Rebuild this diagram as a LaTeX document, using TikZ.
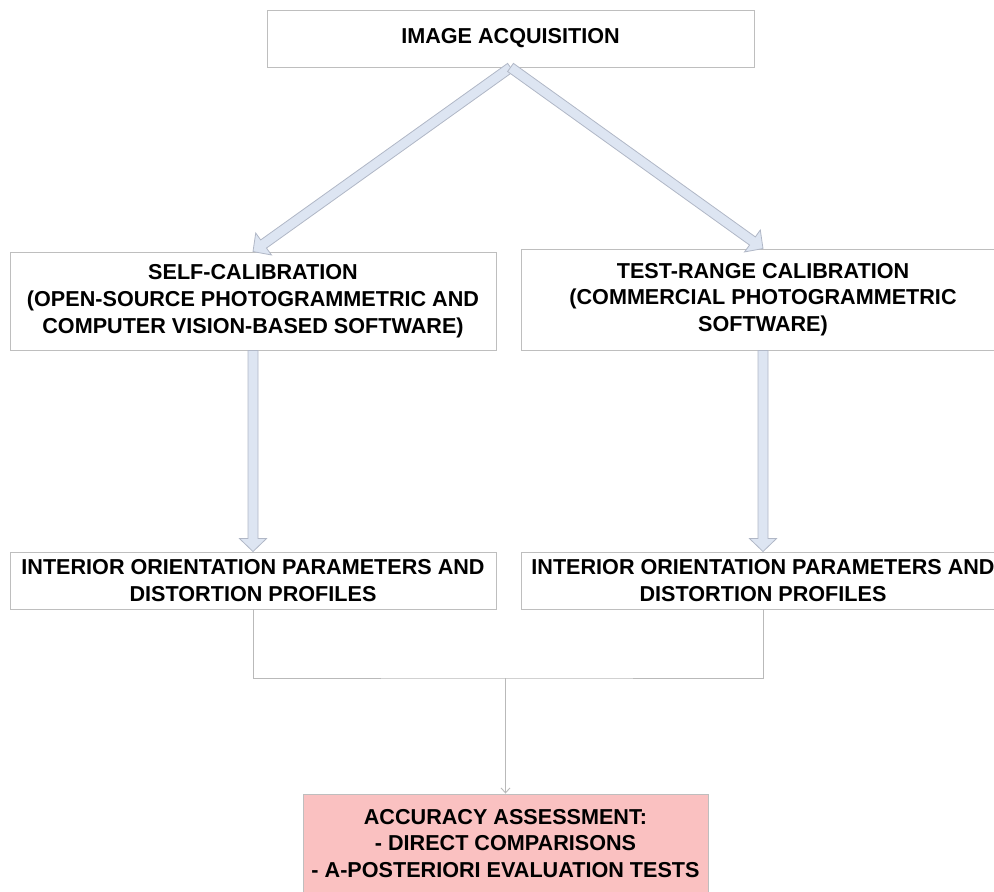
\documentclass[tikz,border=0pt]{standalone}
\usepackage{fontspec}
\setmainfont{Liberation Sans}
\usetikzlibrary{calc,arrows.meta}
\definecolor{boxline}{RGB}{190,190,190}
\definecolor{arrowfill}{RGB}{221,229,242}
\definecolor{arrowline}{RGB}{176,183,198}
\definecolor{pinkfill}{RGB}{250,193,193}
\definecolor{linkline}{RGB}{185,185,185}

% wide hollow arrow from #1 to #2 (shaft 10, head 27 wide, 13 long)
\newcommand\blockarrow[2]{%
  \coordinate (bA) at (#1);
  \coordinate (bB) at (#2);
  \coordinate (bH) at ($(bB)!13pt!(bA)$);
  \filldraw[blockarrow]
    ($(bA)!5pt!90:(bB)$) -- ($(bH)!5pt!-90:(bA)$) -- ($(bH)!13.5pt!-90:(bA)$)
    -- (bB) -- ($(bH)!13.5pt!90:(bA)$) -- ($(bH)!5pt!90:(bA)$)
    -- ($(bA)!5pt!-90:(bB)$) -- cycle;
}

\begin{document}
\begin{tikzpicture}[x=1pt,y=-1pt,
  box/.style={draw=boxline, line width=0.9pt, fill=white, align=center,
    inner sep=0pt, font=\fontsize{21.6}{26.7}\selectfont\bfseries},
  blockarrow/.style={fill=arrowfill, draw=arrowline, line width=0.8pt, line join=miter},
  link/.style={draw=linkline, line width=0.9pt}]
\useasboundingbox (0,0) rectangle (994,892);
\clip (0,0) rectangle (994,892);

\node[box, minimum width=487pt, minimum height=57pt] (acq) at (510.5,38.5) {IMAGE ACQUISITION};

\node[box, minimum width=486pt, minimum height=98pt] (self) at (253,301)
  {SELF-CALIBRATION\\(OPEN-SOURCE PHOTOGRAMMETRIC AND\\COMPUTER VISION-BASED SOFTWARE)};
\node[box, minimum width=484pt, minimum height=101pt] (test) at (763,299.5)
  {TEST-RANGE CALIBRATION\\(COMMERCIAL PHOTOGRAMMETRIC\\SOFTWARE)};

\node[box, minimum width=486pt, minimum height=57pt] (iopl) at (253,580.5)
  {INTERIOR ORIENTATION PARAMETERS AND\\DISTORTION PROFILES};
\node[box, minimum width=484pt, minimum height=57pt] (iopr) at (763,580.5)
  {INTERIOR ORIENTATION PARAMETERS AND\\DISTORTION PROFILES};

\node[box, fill=pinkfill, minimum width=405pt, minimum height=99pt] (acc) at (505.5,843.5)
  {ACCURACY ASSESSMENT:\\- DIRECT COMPARISONS\\- A-POSTERIORI EVALUATION TESTS};

% wide arrows
\blockarrow{acq.south}{self.north}
\blockarrow{acq.south}{test.north}
\blockarrow{self.south}{iopl.north}
\blockarrow{test.south}{iopr.north}

% joining lines
\coordinate (join) at (505.5,678);
\draw[link] (iopl.south) |- (join) -| (iopr.south);
\draw[link, -{Straight Barb[length=5pt,width=9pt]}] (join) -- (acc.north);
\end{tikzpicture}
\end{document}
